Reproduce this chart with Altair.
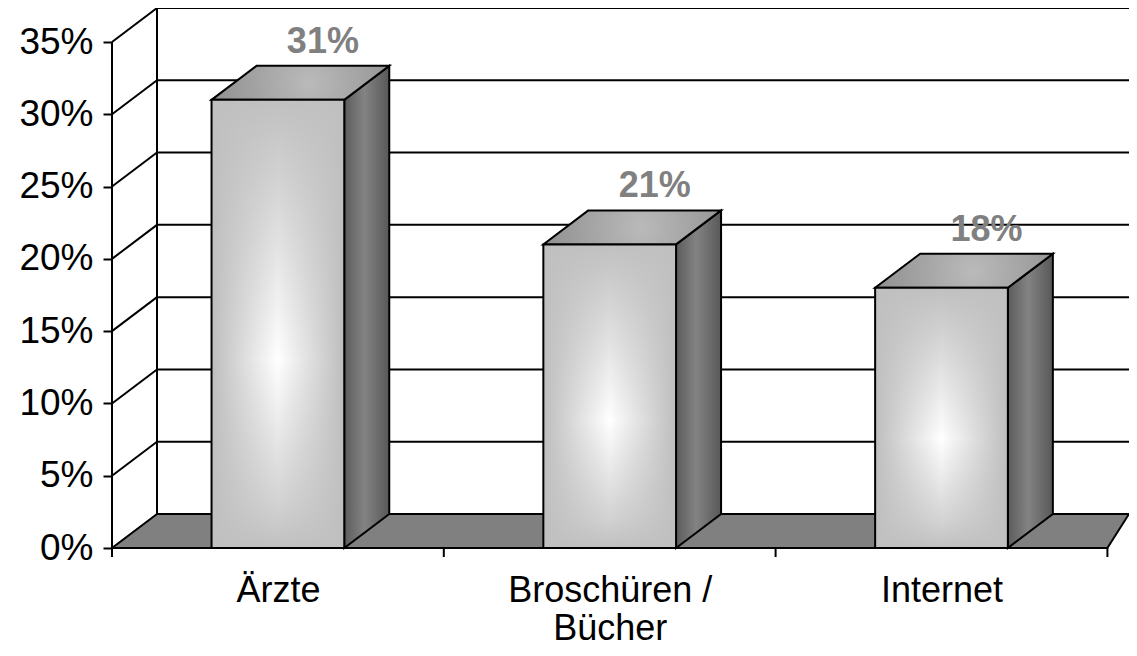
import altair as alt
import pandas as pd

# ---- data ----
categories = ["Ärzte", "Broschüren / Bücher", "Internet"]
label_lines = [["Ärzte"], ["Broschüren /", "Bücher"], ["Internet"]]
values = [31, 21, 18]
value_labels = ["31%", "21%", "18%"]
y_ticks = [0, 5, 10, 15, 20, 25, 30, 35]
grid_levels = [5, 10, 15, 20, 25, 30, 35]

# ---- layout / style constants ----
W, H = 1017, 540
PX_X = 331.8           # pixels per category
PX_Y = 14.457          # pixels per percent
XMAX = W / PX_X
YMAX = H / PX_Y
DX = 45 / PX_X         # 3D depth offset in data units
DY = 34 / PX_Y
BAR_LO, BAR_HI = 0.3, 0.7
N = len(categories)
TOP = y_ticks[-1]
FONT = "Liberation Sans"

xs = alt.Scale(domain=[0, XMAX], nice=False, zero=False)
ys = alt.Scale(domain=[0, YMAX], nice=False, zero=False)

# label expression built from label_lines
def js(s):
    return "'" + s.replace("'", "\\'") + "'"

expr = "''"
for i in reversed(range(N)):
    lines = label_lines[i]
    lab = js(lines[0]) if len(lines) == 1 else "[" + ",".join(js(s) for s in lines) + "]"
    expr = f"datum.value < {i + 1} ? {lab} : ({expr})"

x_axis = alt.Axis(values=[i + 0.5 for i in range(N)], labelExpr=expr, domain=False,
                  ticks=False, tickSize=0, grid=False, title=None, labelFont=FONT,
                  labelFontSize=36, labelColor="black", labelPadding=25,
                  labelLineHeight=38, labelOverlap=False, labelFlush=False,
                  labelBaseline="top", labelLimit=0)
y_axis = alt.Axis(values=y_ticks, labelExpr="datum.value + '%'", domain=False,
                  grid=False, ticks=True, tickSize=9, tickWidth=2, tickColor="black",
                  title=None, labelFont=FONT, labelFontSize=37, labelColor="black",
                  labelPadding=10, labelOverlap=False, labelFlush=False, labelLimit=0)

def X(f):
    return alt.X(f, type="quantitative", scale=xs, axis=x_axis)

def Y(f):
    return alt.Y(f, type="quantitative", scale=ys, axis=y_axis, stack=None)

# ---- tables ----
grid_back = pd.DataFrame({"x": DX, "x2": XMAX,
                          "y": [g + DY for g in grid_levels]})
grid_back["y2"] = grid_back["y"]
grid_diag = pd.DataFrame({"x": 0.0, "x2": DX, "y": grid_levels,
                          "y2": [g + DY for g in grid_levels]})
wall_edge = pd.DataFrame({"x": [DX], "y": [DY], "y2": [TOP + DY]})
yaxis_line = pd.DataFrame({"x": [0.0], "y": [0.0], "y2": [float(TOP)]})
xaxis_line = pd.DataFrame({"x": [0.0], "x2": [float(N)], "y": [0.0]})
xticks = pd.DataFrame({"x": [float(i) for i in range(N + 1)], "y": 0.0})

floor = pd.DataFrame({"y": [0.0, DY], "xl": [0.0, DX], "xr": [float(N), XMAX]})

front = pd.DataFrame({"cat": categories,
                      "x": [i + BAR_LO for i in range(N)],
                      "x2": [i + BAR_HI for i in range(N)],
                      "y": 0.0, "v": values})
side_rows, top_rows = [], []
for i, (c, v) in enumerate(zip(categories, values)):
    for t in (0, 1):
        side_rows.append({"cat": c, "x": i + BAR_HI + t * DX,
                          "ytop": v + t * DY, "ybot": t * DY})
        top_rows.append({"cat": c, "y": v + t * DY,
                         "xl": i + BAR_LO + t * DX, "xr": i + BAR_HI + t * DX})
side = pd.DataFrame(side_rows)
topf = pd.DataFrame(top_rows)
labels = pd.DataFrame({"x": [i + 0.5 + DX for i in range(N)],
                       "y": [v + DY for v in values], "t": value_labels})

# ---- fills ----
front_fill_h = alt.Gradient(gradient="linear",
                            stops=[alt.GradientStop(color="#bdbdbd", offset=0),
                                   alt.GradientStop(color="#ffffff", offset=0.5),
                                   alt.GradientStop(color="#bdbdbd", offset=1)],
                            x1=0, x2=1, y1=0, y2=0)
front_fill_v = alt.Gradient(gradient="linear",
                            stops=[alt.GradientStop(color="rgba(192,192,192,1)", offset=0),
                                   alt.GradientStop(color="rgba(192,192,192,0.75)", offset=0.15),
                                   alt.GradientStop(color="rgba(192,192,192,0)", offset=0.58),
                                   alt.GradientStop(color="rgba(192,192,192,0.7)", offset=0.9),
                                   alt.GradientStop(color="rgba(192,192,192,1)", offset=1)],
                            x1=0, x2=0, y1=0, y2=1)
side_fill = alt.Gradient(gradient="linear",
                         stops=[alt.GradientStop(color="#5c5c5c", offset=0),
                                alt.GradientStop(color="#838383", offset=0.45),
                                alt.GradientStop(color="#585858", offset=1)],
                         x1=0, x2=1, y1=0, y2=0)
top_fill = alt.Gradient(gradient="radial",
                        stops=[alt.GradientStop(color="#bababa", offset=0),
                               alt.GradientStop(color="#8c8c8c", offset=1)],
                        x1=0.55, y1=0.5, r1=0, x2=0.55, y2=0.5, r2=0.6)

LW = 2

l_grid_back = alt.Chart(grid_back).mark_rule(color="black", strokeWidth=LW).encode(
    x=X("x"), x2="x2", y=Y("y"), y2="y2")
l_grid_diag = alt.Chart(grid_diag).mark_rule(color="black", strokeWidth=LW).encode(
    x=X("x"), x2="x2", y=Y("y"), y2="y2")
l_wall = alt.Chart(wall_edge).mark_rule(color="black", strokeWidth=LW).encode(
    x=X("x"), y=Y("y"), y2="y2")
l_floor = alt.Chart(floor).mark_area(orient="horizontal", color="#808080",
                                     stroke="black", strokeWidth=LW).encode(
    y=Y("y"), x=X("xl"), x2="xr")
l_yaxis = alt.Chart(yaxis_line).mark_rule(color="black", strokeWidth=LW).encode(
    x=X("x"), y=Y("y"), y2="y2")
l_xaxis = alt.Chart(xaxis_line).mark_rule(color="black", strokeWidth=LW).encode(
    x=X("x"), x2="x2", y=Y("y"))
l_xticks = alt.Chart(xticks).mark_rule(color="black", strokeWidth=LW, y2Offset=9).encode(
    x=X("x"), y=Y("y"), y2="y")
l_front = alt.Chart(front).mark_rect(color=front_fill_h, strokeWidth=0).encode(
    x=X("x"), x2="x2", y=Y("y"), y2="v")
l_front2 = alt.Chart(front).mark_rect(color=front_fill_v, stroke="black",
                                      strokeWidth=LW).encode(
    x=X("x"), x2="x2", y=Y("y"), y2="v")
l_side = alt.Chart(side).mark_area(orient="vertical", color=side_fill,
                                   stroke="black", strokeWidth=LW).encode(
    x=X("x"), y=Y("ytop"), y2="ybot", detail="cat:N")
l_top = alt.Chart(topf).mark_area(orient="horizontal", color=top_fill,
                                  stroke="black", strokeWidth=LW).encode(
    y=Y("y"), x=X("xl"), x2="xr", detail="cat:N")
l_labels = alt.Chart(labels).mark_text(font=FONT, fontSize=36, fontWeight="bold",
                                       color="#808080", dy=-13,
                                       baseline="alphabetic", align="center").encode(
    x=X("x"), y=Y("y"), text="t:N")

chart = alt.layer(l_grid_back, l_grid_diag, l_wall, l_floor, l_yaxis, l_xaxis,
                  l_xticks, l_side, l_top, l_front, l_front2, l_labels).properties(
    width=W, height=H,
    autosize=alt.AutoSizeParams(type="none"),
    padding={"left": 104, "top": 0, "right": 0, "bottom": 100},
    background="white",
).configure_view(stroke=None)

chart.save("out.html", embed_options={"renderer": "svg", "actions": False})
